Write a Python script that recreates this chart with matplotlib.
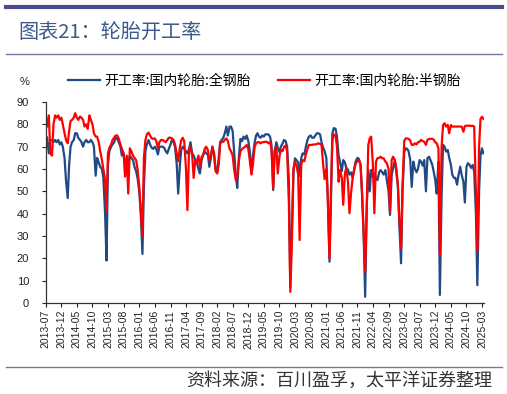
import matplotlib
matplotlib.use('Agg')
import matplotlib.pyplot as plt
import pandas as pd
from matplotlib.lines import Line2D

plt.rcParams['font.family'] = ['Liberation Sans', 'Noto Sans CJK SC', 'DejaVu Sans']

# semi-monthly observations, 2013-07 .. 2025-03
dates = pd.date_range('2013-07-01', periods=282, freq='SMS')

full_steel = [
    75, 74, 67, 73, 73, 72, 73, 72, 73, 71, 72, 70,
    65, 55, 47, 62, 70, 72, 73, 76, 76, 74, 73, 72,
    70, 72, 73, 72, 72, 73, 72, 70, 57, 65, 63, 61,
    60, 56, 40, 19, 62, 68, 70, 71, 72, 74, 73.5, 72,
    70, 66, 67, 61, 65, 62.6, 66, 65, 64, 61, 59, 56,
    50, 40, 22, 52, 68, 71, 73, 71, 69.5, 69, 70, 69,
    66.5, 70, 70, 70, 69.5, 68, 67, 69, 71, 73, 72, 70,
    62, 49, 62, 69, 70, 69, 68, 67, 69, 72, 67, 66,
    64, 63, 60, 58, 64, 66, 68, 67, 66.5, 61, 65, 70,
    67, 60, 59, 65, 72, 73, 74, 76, 79, 75, 79, 79,
    77, 68, 57, 51.5, 66, 73.5, 72.5, 74.5, 73.5, 75, 72.5, 68,
    58, 66, 72, 75, 76, 74.5, 74, 75, 74.5, 75.5, 75.5, 75.5,
    74.5, 71, 50.6, 68, 72, 69.5, 67.5, 70, 71.5, 73, 72.5, 70,
    55, 7, 36, 59, 64.8, 64, 63, 57, 65, 67, 66.5, 70,
    73, 74.5, 75, 74, 74, 75, 76, 76, 75.5, 72, 69.5, 68,
    65, 48, 18.5, 45, 76, 78.3, 78, 74.5, 66, 63, 59, 64,
    63, 60.5, 59.6, 57.5, 58.5, 56, 60, 63.5, 65, 64.5, 62, 50,
    30, 2.8, 45, 59.6, 50, 59.6, 56.5, 58, 56, 55, 58.5, 59.5,
    58.5, 57.5, 59.5, 55, 50, 39.4, 57.3, 60.3, 64, 59, 52, 35,
    17.8, 50, 67.5, 69.3, 69, 68, 64, 52, 63.3, 60.3, 58.5, 60,
    64, 63.3, 61.5, 64, 50, 64.8, 65.5, 64, 62, 59, 55, 49,
    63.3, 3.6, 48.4, 70.8, 70, 67.8, 68.5, 65, 62, 57.5, 56, 56,
    53, 57.3, 61, 57.3, 54.3, 45, 61, 62.6, 61.8, 60.5, 61.8, 58.8,
    40, 8, 50, 66, 69.3, 67,
]

semi_steel = [
    82, 79, 84, 67, 66, 80, 84, 83, 84, 82, 83, 80,
    76, 73, 71.5, 77, 81.5, 82, 83, 85, 83, 82, 83.5, 83,
    82, 79, 80, 78, 84, 82, 80, 76, 74.5, 74.5, 72, 68,
    64, 60, 55, 41, 67, 69.5, 71, 73, 74, 75, 75, 73.5,
    71, 69, 67, 56.6, 66, 49, 69.3, 68, 66, 65, 64, 60,
    52, 42, 30, 65, 73, 75.5, 76.3, 75, 73.7, 73.5, 73.7, 72.5,
    69.5, 72, 73, 73, 72.5, 72, 73, 74, 74, 73.7, 73, 71,
    67, 63.5, 70, 73, 74, 72.5, 60, 41.6, 68, 70, 66, 56,
    64, 63, 66, 61, 65.5, 66.3, 69, 70, 68.5, 64, 66, 70,
    66, 59, 58, 62, 71.5, 72, 72.2, 73, 73.7, 72.5, 69, 68,
    66, 60, 55, 57, 64, 68, 69, 69.5, 70, 70.8, 69, 64,
    57.5, 62, 70, 71.5, 72, 72, 71.5, 72, 72, 72.2, 72.2, 71.5,
    72, 69.3, 51.4, 67.8, 70, 58, 65.5, 68.5, 68, 70, 70.5, 68,
    45, 5, 30, 60, 63.3, 61.8, 57.5, 28.2, 62, 64, 63.5, 66.5,
    69, 70.8, 70.8, 70.8, 71, 71, 71.2, 71.5, 71.2, 70.8, 62, 55.5,
    60, 47, 20, 50, 73, 75.5, 75, 70, 54.3, 59.6, 56, 44,
    58, 60.5, 54, 40.2, 50, 55.8, 60, 62.5, 63.5, 64, 62, 50,
    30, 14, 45, 70.8, 73.7, 74.5, 62, 40.2, 63.3, 64.8, 65, 65.5,
    64.8, 64.8, 63.3, 62.6, 60, 41, 64, 65.5, 64, 60.5, 53, 38,
    24.5, 52, 72.5, 73.7, 73.7, 73.5, 72.8, 70.8, 70.8, 71.5, 71, 72,
    72.2, 73, 72.5, 72.2, 70.8, 73, 73.5, 73.5, 73.5, 73.2, 72, 71.5,
    69.3, 21.5, 70, 79.7, 80.5, 79, 79.7, 76, 79.7, 79, 79, 79,
    79, 79, 79, 79, 76.7, 79.2, 79.4, 79.4, 79.4, 79.3, 79.3, 79,
    50, 23, 70, 82.5, 83.4, 82.4,
]

tick_dates = pd.date_range('2013-07-01', '2025-03-01', freq='5MS')
tick_labels = [d.strftime('%Y-%m') for d in tick_dates]
y_ticks = list(range(0, 91, 10))

series_names = ['开工率:国内轮胎:全钢胎', '开工率:国内轮胎:半钢胎']
colors = ['#1F4A86', '#FF0000']
title = '图表21：轮胎开工率'
source = '资料来源：百川盈孚，太平洋证券整理'

W, H = 507, 394
fig = plt.figure(figsize=(W / 100, H / 100), dpi=100)

def fx(px):
    return px / W

def fy(py):
    return 1 - py / H

ax = fig.add_axes([fx(45.7), fy(303), fx(484) - fx(45.7), fy(102) - fy(303)])
ax.plot(dates, full_steel, color=colors[0], lw=1.6, solid_joinstyle='round')
ax.plot(dates, semi_steel, color=colors[1], lw=1.6, solid_joinstyle='round')

ax.set_ylim(0, 90)
ax.set_yticks(y_ticks)
ax.set_xlim(pd.Timestamp('2013-07-01'), pd.Timestamp('2025-03-21'))
ax.set_xticks(tick_dates)
ax.set_xticklabels(tick_labels, rotation=90, fontsize=7.5)
ax.tick_params(axis='y', labelsize=8, length=3, width=0.8, pad=9, colors='#222222')
ax.tick_params(axis='x', length=3, width=0.8, pad=2, colors='#222222')
for s in ['top', 'right']:
    ax.spines[s].set_visible(False)
for s in ['left', 'bottom']:
    ax.spines[s].set_color('#333333')
    ax.spines[s].set_linewidth(0.9)

# decorative lines and texts
fig.add_artist(Line2D([fx(6), fx(502)], [fy(7), fy(7)], color='#4C4C8C', lw=3))
fig.add_artist(Line2D([fx(6), fx(502)], [fy(54), fy(54)], color='#7676A8', lw=1))
fig.add_artist(Line2D([fx(6), fx(502)], [fy(367), fy(367)], color='#7676A8', lw=1))

fig.text(fx(18), fy(32), title, fontsize=14.5, color='#3C5A8C', va='center', ha='left',
         family=['Noto Sans CJK SC', 'DejaVu Sans'])
fig.text(fx(492), fy(381), source, fontsize=13, color='#333333', va='center', ha='right',
         style='italic', family=['Noto Sans CJK SC', 'DejaVu Sans'])
fig.text(fx(25), fy(82), '%', fontsize=8, color='#222222', va='center', ha='center')

handles = [Line2D([], [], color=c, lw=1.6) for c in colors]
fig.legend(handles, series_names, loc='center left', bbox_to_anchor=(fx(68), fy(81)),
           ncol=2, frameon=False, handlelength=2.3, handletextpad=0.3,
           columnspacing=2.0, borderaxespad=0, borderpad=0,
           prop={'family': ['Noto Sans CJK SC', 'DejaVu Sans'], 'size': 10})

fig.savefig('out.png', dpi=100)
